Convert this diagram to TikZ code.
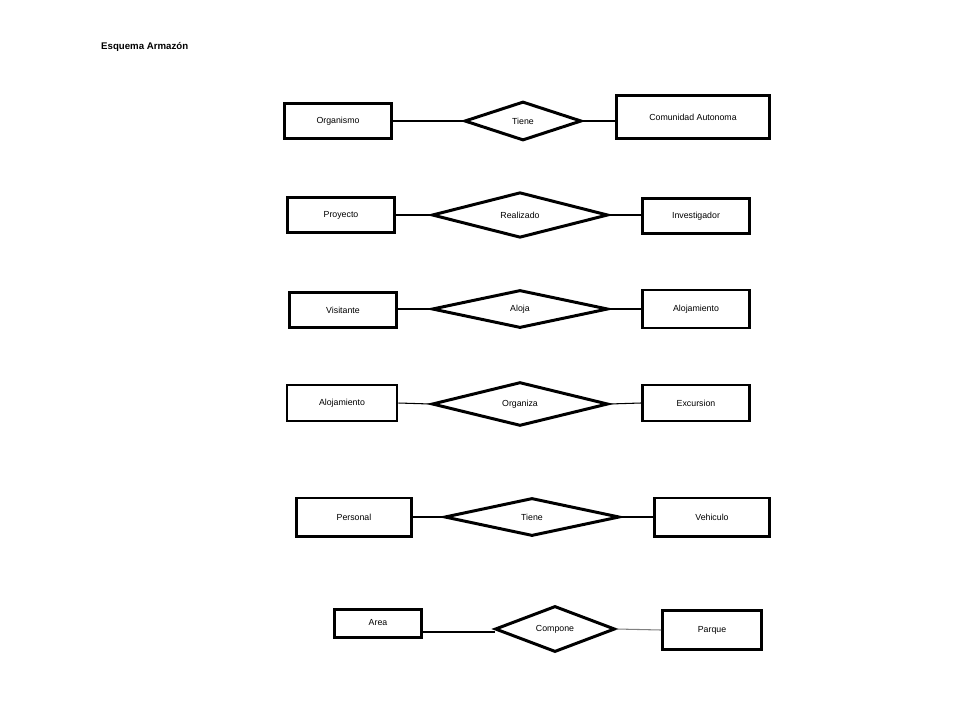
\documentclass[tikz,border=0pt]{standalone}
\usepackage{fontspec}
\setmainfont{Liberation Sans}
\usetikzlibrary{shapes.geometric}
\tikzset{
  entidad/.style={draw, line width=1.7pt, inner sep=0pt, font=\fontsize{5}{6}\selectfont},
  relacion/.style={draw, diamond, line width=1.7pt, inner sep=0pt, font=\fontsize{5}{6}\selectfont},
  enlace/.style={line width=0.6pt}
}
\begin{document}
\begin{tikzpicture}[x=0.02cm, y=-0.02cm]
	\useasboundingbox (0,0) rectangle (960,720);
	\node[anchor=west, font=\bfseries\fontsize{5.5}{6}\selectfont] (titulo) at (95,47) {Esquema Armazón};

	% Organismo - Tiene - Comunidad Autonoma
	\node[entidad, minimum width=107*0.02cm, minimum height=35*0.02cm] (organismo) at (338,121) {Organismo};
	\node[relacion, minimum width=117*0.02cm, minimum height=39*0.02cm] (tiene1) at (523,121) {Tiene};
	\node[entidad, minimum width=153*0.02cm, minimum height=43*0.02cm] (comunidad) at (693,117) {Comunidad Autonoma};
	\draw[enlace] (organismo.east) -- (tiene1.west);
	\draw[enlace] (tiene1.east) -- (comunidad.west |- tiene1.east);

	% Proyecto - Realizado - Investigador
	\node[entidad, minimum width=107*0.02cm, minimum height=35*0.02cm] (proyecto) at (341,215) {Proyecto};
	\node[relacion, minimum width=176*0.02cm, minimum height=38*0.02cm] (realizado) at (520,215) {Realizado};
	\node[entidad, minimum width=107*0.02cm, minimum height=35*0.02cm] (investigador) at (696,216) {Investigador};
	\draw[enlace] (proyecto.east) -- (realizado.west);
	\draw[enlace] (realizado.east) -- (investigador.west |- realizado.east);

	% Visitante - Aloja - Alojamiento
	\node[entidad, minimum width=107*0.02cm, minimum height=35*0.02cm] (visitante) at (343,310) {Visitante};
	\node[relacion, minimum width=176*0.02cm, minimum height=38*0.02cm] (aloja) at (520,309) {Aloja};
	\node[entidad, minimum width=107*0.02cm, minimum height=38*0.02cm] (alojamiento1) at (696,309) {Alojamiento};
	\draw[enlace] (visitante.east |- aloja.west) -- (aloja.west);
	\draw[enlace] (aloja.east) -- (alojamiento1.west);

	% Alojamiento - Organiza - Excursion
	\node[entidad, minimum width=110*0.02cm, minimum height=36*0.02cm] (alojamiento2) at (342,403) {Alojamiento};
	\node[relacion, minimum width=176*0.02cm, minimum height=37*0.02cm] (organiza) at (520,404) {Organiza};
	\node[entidad, minimum width=107*0.02cm, minimum height=36*0.02cm] (excursion) at (696,403) {Excursion};
	\draw[enlace] (alojamiento2.east) -- (organiza.west);
	\draw[enlace] (organiza.east) -- (excursion.west);

	% Personal - Tiene - Vehiculo
	\node[entidad, minimum width=115*0.02cm, minimum height=38*0.02cm] (personal) at (354,517) {Personal};
	\node[relacion, minimum width=175*0.02cm, minimum height=38*0.02cm] (tiene2) at (532,517) {Tiene};
	\node[entidad, minimum width=115*0.02cm, minimum height=38*0.02cm] (vehiculo) at (712,517) {Vehiculo};
	\draw[enlace] (personal.east) -- (tiene2.west);
	\draw[enlace] (tiene2.east) -- (vehiculo.west);

	% Area - Compone - Parque
	\node[entidad, minimum width=87*0.02cm, minimum height=28*0.02cm] (area) at (378,623) {Area};
	\node[relacion, minimum width=120*0.02cm, minimum height=38*0.02cm] (compone) at (555,629) {Compone};
	\node[entidad, minimum width=99*0.02cm, minimum height=39*0.02cm] (parque) at (712,630) {Parque};
	\coordinate (areafin) at (495,632);
	\draw[enlace] (area.east |- areafin) -- (areafin);
	\draw[enlace, gray] (compone.east) -- (parque.west);
\end{tikzpicture}
\end{document}
